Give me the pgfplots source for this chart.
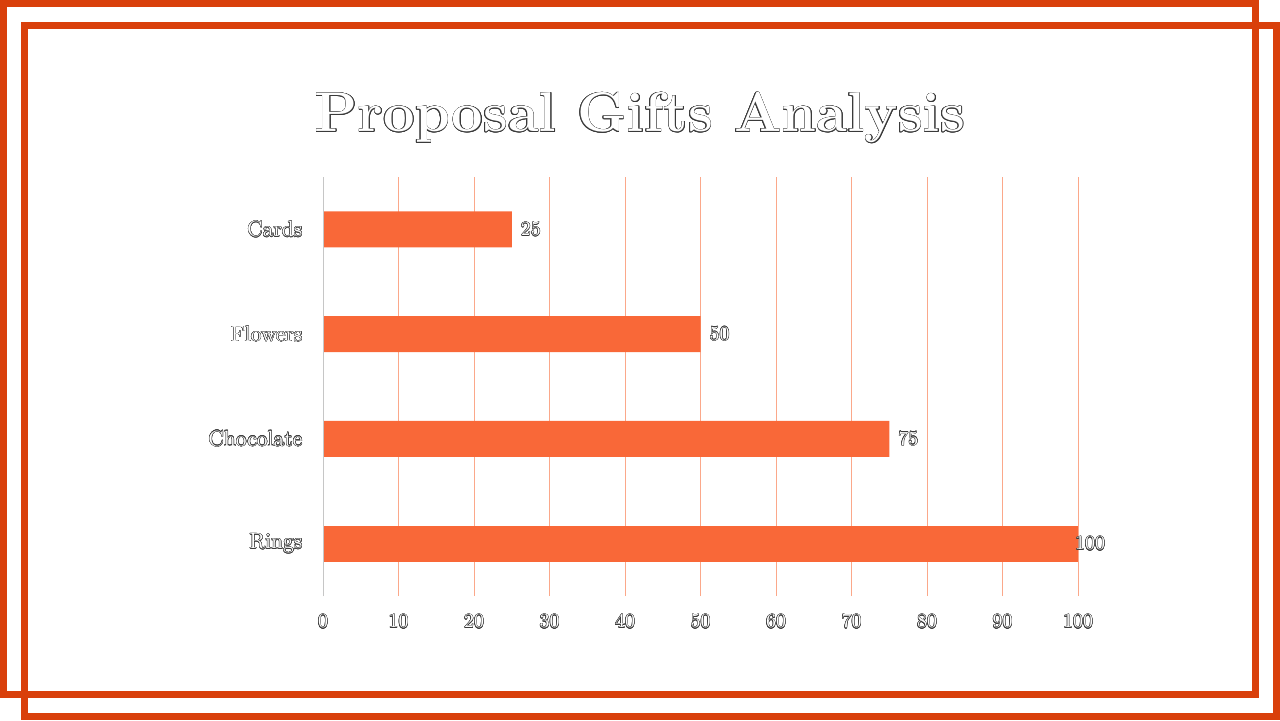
\documentclass[border=0pt]{standalone}
\usepackage{pgfplots}
\pgfplotsset{compat=1.18}
\usepackage[copies]{contour}
\contourlength{0.22pt}
\contournumber{16}
\definecolor{framec}{HTML}{D9400B}
\definecolor{barc}{HTML}{F96838}
\definecolor{gridc}{HTML}{FBA88A}
\definecolor{ink}{HTML}{3A3A3A}
\newcommand{\ol}[1]{\contour{ink}{#1}}

\begin{document}
\begin{tikzpicture}[x=0.5pt,y=-0.5pt]
% double frame
\draw[framec,line width=3.5pt] (3.5,3.5) rectangle (1255.5,694.5);
\draw[framec,line width=3.5pt] (24.5,25.5) rectangle (1276.5,716.5);
\node[text=white,font=\fontsize{28}{34}\selectfont\bfseries] at (640,118)
  {\contourlength{0.3pt}\ol{Proposal Gifts Analysis}};
\begin{axis}[
  at={(161.5pt,-298pt)}, anchor=south west,
  scale only axis, width=377.5pt, height=209.5pt,
  xbar, bar width=18pt, bar shift=0pt,
  xmin=0, xmax=100, ymin=-0.5, ymax=3.5,
  xtick={0,10,...,100},
  ytick={0,1,2,3},
  yticklabels={\ol{Rings},\ol{Chocolate},\ol{Flowers},\ol{Cards}},
  xticklabel={\ol{$\pgfmathprintnumber{\tick}$}},
  xticklabel style={text=white, yshift=-6pt},
  yticklabel style={text=white, xshift=-2.5pt, font=\fontsize{11}{13}\selectfont},
  axis line style={draw=none},
  tick style={draw=none},
  xmajorgrids, ymajorgrids=false,
  grid style={gridc, line width=0.5pt},
  nodes near coords={\ol{\pgfmathprintnumber{\pgfplotspointmeta}}},
  nodes near coords align={horizontal},
  every node near coord/.append style={text=white, anchor=west, xshift=1pt},
  clip=false,
]
\addplot[fill=barc, draw=none] coordinates {(75,1) (50,2) (25,3)};
\addplot[fill=barc, draw=none,
  every node near coord/.append style={xshift=-6pt}] coordinates {(100,0)};
\draw[gray!45, line width=0.5pt] (axis cs:0,-0.5) -- (axis cs:0,3.5);
\end{axis}
\pgfresetboundingbox
\path[use as bounding box] (0,0) rectangle (1280,720);
\end{tikzpicture}
\end{document}
